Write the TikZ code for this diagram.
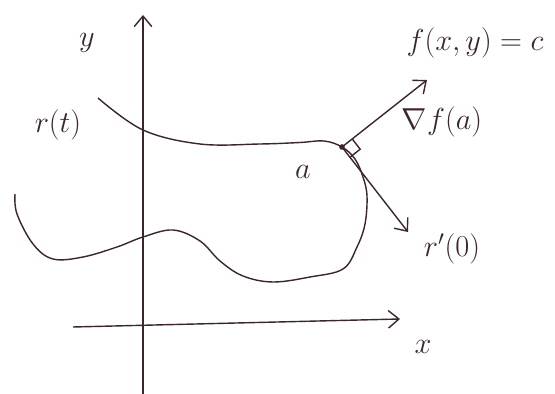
\documentclass[tikz,border=0pt]{standalone}
\usetikzlibrary{calc,arrows.meta}
\definecolor{ink}{RGB}{58,38,44}
\begin{document}
\begin{tikzpicture}[ink, line width=0.8pt, >={Straight Barb[length=6pt,width=10pt]},
    lbl/.style={font=\LARGE}]
  \useasboundingbox (-2.86,-1.36) rectangle (8.24,6.52);
  % axes
  \coordinate (ybot) at (0,-1.36);   \coordinate (ytop) at (0,6.22);
  \coordinate (xl)   at (-1.4,-0.02); \coordinate (xr)   at (5.14,0.14);
  \draw[->] (ybot) -- (ytop);
  \draw[->] (xl) -- (xr);
  \node[lbl] (ylab) at (-1.12,5.66) {$y$};
  \node[lbl] (xlab) at (5.6,-0.42)  {$x$};
  % level curve f(x,y)=c
  \draw plot[smooth, tension=0.6] coordinates {
    (-0.9,4.56) (0,3.92) (1.14,3.64) (2.34,3.64) (3.14,3.67) (3.62,3.7)
    (3.98,3.58) (4.24,3.34) (4.4,2.98) (4.48,2.6) (4.44,2.04) (4.28,1.58)
    (4.0,1.14) (3.34,0.98) (2.6,0.88) (2.0,1.0) (1.54,1.3) (1.14,1.7)
    (0.6,1.92) (0,1.78) (-0.52,1.58) (-1.2,1.38) (-1.8,1.34) (-2.2,1.64)
    (-2.52,2.24) (-2.56,2.64)};
  % point a, gradient and tangent
  \coordinate (a)    at (3.98,3.58);
  \coordinate (grad) at (5.68,4.92);
  \coordinate (tang) at (5.3,1.88);
  \fill (a) circle (1.6pt);
  \draw[->] (a) -- (grad);
  \draw[->] (a) -- (tang);
  \draw ($(a)!0.26cm!(grad)$) -- ($(a)!0.26cm!(grad)+(a)!0.26cm!(tang)-(a)$)
        -- ($(a)!0.26cm!(tang)$);
  \node[lbl] (rt)    at (-1.7,4.02) {$r(t)$};
  \node[lbl] (alab)  at (3.2,3.08)  {$a$};
  \node[lbl] (nabla) at (5.98,4.08) {$\nabla f(a)$};
  \node[lbl] (level) at (6.64,5.66) {$f(x,y)=c$};
  \node[lbl] (rp)    at (6.18,1.54) {$r'(0)$};
\end{tikzpicture}
\end{document}
